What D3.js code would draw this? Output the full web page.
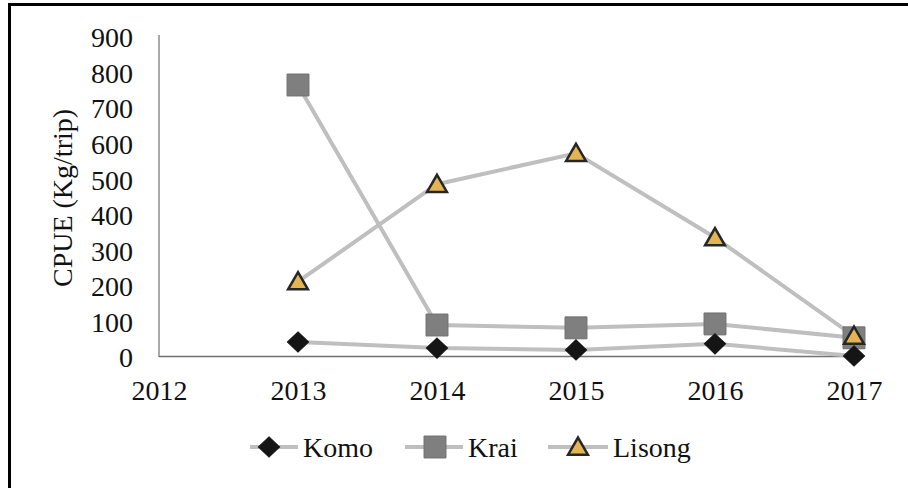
<!DOCTYPE html>
<html>
<head>
<meta charset="utf-8">
<script src="https://cdn.jsdelivr.net/npm/d3@7"></script>
<style>
  body { margin: 0; background: #fff; }
  text { font-family: "Liberation Serif", "Times New Roman", serif; fill: #111; }
</style>
</head>
<body>
<div id="chart"></div>
<script>
const years = [2013, 2014, 2015, 2016, 2017];
const komo = [42, 25, 20, 37, 3];
const krai = [765, 90, 82, 93, 54];
const lisong = [212, 486, 573, 336, 59];
const yTicks = [0, 100, 200, 300, 400, 500, 600, 700, 800, 900];
const xTicks = [2012, 2013, 2014, 2015, 2016, 2017];

const width = 908, height = 488;

const svg = d3.select("#chart").append("svg")
  .attr("width", width)
  .attr("height", height);

svg.append("rect").attr("width", width).attr("height", height).attr("fill", "#fff");

// outer frame (top + left only)
svg.append("line").attr("x1", 8).attr("x2", width).attr("y1", 4.5).attr("y2", 4.5)
  .attr("stroke", "#000").attr("stroke-width", 3);
svg.append("line").attr("x1", 9.5).attr("x2", 9.5).attr("y1", 3).attr("y2", height)
  .attr("stroke", "#000").attr("stroke-width", 3);

const x = d3.scaleLinear().domain([2012, 2017]).range([159, 854]);
const y = d3.scaleLinear().domain([0, 900]).range([357, 37]);

// y axis
const yAxis = svg.append("g")
  .attr("transform", "translate(159,0)")
  .call(d3.axisLeft(y).tickValues(yTicks).tickSize(0).tickPadding(26));
yAxis.select(".domain").remove();
yAxis.selectAll("text").style("font-size", "28px").attr("dy", "0.35em");
svg.append("line").attr("x1", 159).attr("x2", 159).attr("y1", 35).attr("y2", 357)
  .attr("stroke", "#8c8c8c").attr("stroke-width", 1.5);

// x axis
const xAxis = svg.append("g")
  .attr("transform", "translate(0,356)")
  .call(d3.axisBottom(x).tickValues(xTicks).tickSize(0).tickPadding(24).tickFormat(d3.format("d")));
xAxis.select(".domain").remove();
xAxis.selectAll("text").style("font-size", "28px");
svg.append("line").attr("x1", 159).attr("x2", 854).attr("y1", 356.5).attr("y2", 356.5)
  .attr("stroke", "#707070").attr("stroke-width", 1.5);

// y title
svg.append("text")
  .attr("transform", "translate(72,198) rotate(-90)")
  .attr("text-anchor", "middle")
  .style("font-size", "28px")
  .text("CPUE (Kg/trip)");

const series = [
  { name: "Komo", values: komo },
  { name: "Krai", values: krai },
  { name: "Lisong", values: lisong }
];

const line = d3.line().x((d, i) => x(years[i])).y(d => y(d));

series.forEach(s => {
  svg.append("path")
    .attr("d", line(s.values))
    .attr("fill", "none")
    .attr("stroke", "#bfbfbf")
    .attr("stroke-width", 4);
});

function drawMarker(g, name, cx, cy) {
  if (name === "Komo") {
    g.append("path")
      .attr("d", d3.symbol(d3.symbolDiamond2 || d3.symbolDiamond, 260)())
      .attr("transform", `translate(${cx},${cy}) scale(1.05,1)`)
      .attr("fill", "#151515").attr("stroke", "#151515").attr("stroke-width", 1);
  } else if (name === "Krai") {
    g.append("path")
      .attr("d", d3.symbol(d3.symbolSquare, 480)())
      .attr("transform", `translate(${cx},${cy})`)
      .attr("fill", "#7f7f7f").attr("stroke", "#6e6e6e").attr("stroke-width", 1);
  } else {
    g.append("path")
      .attr("d", d3.symbol(d3.symbolTriangle, 170)())
      .attr("transform", `translate(${cx},${cy + 2})`)
      .attr("fill", "#e3b453").attr("stroke", "#262626").attr("stroke-width", 2.5);
  }
}

// markers drawn after all lines; Komo over Krai, Lisong on top
const markerOrder = ["Krai", "Komo", "Lisong"];
markerOrder.forEach(n => {
  const s = series.find(d => d.name === n);
  const g = svg.append("g");
  s.values.forEach((v, i) => drawMarker(g, n, x(years[i]), y(v)));
});

// legend
const legendItems = [
  { name: "Komo", x1: 250, x2: 298, mx: 269, tx: 303 },
  { name: "Krai", x1: 405, x2: 463, mx: 435, tx: 468 },
  { name: "Lisong", x1: 548, x2: 608, mx: 578, tx: 613 }
];
const legend = svg.append("g");
legendItems.forEach(d => {
  legend.append("line").attr("x1", d.x1).attr("x2", d.x2).attr("y1", 447).attr("y2", 447)
    .attr("stroke", "#bfbfbf").attr("stroke-width", 4);
  drawMarker(legend, d.name, d.mx, 447);
  legend.append("text").attr("x", d.tx).attr("y", 457)
    .style("font-size", "28px").text(d.name);
});
</script>
</body>
</html>
